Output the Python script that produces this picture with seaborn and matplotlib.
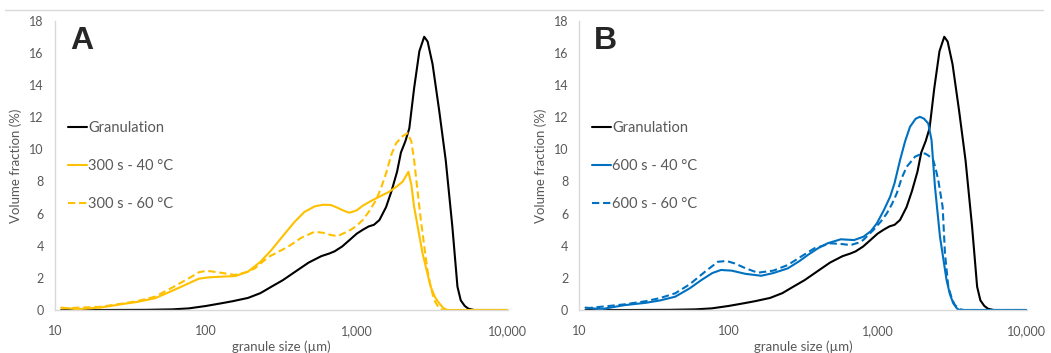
import numpy as np
import pandas as pd
import matplotlib
matplotlib.use("Agg")
import matplotlib.pyplot as plt
from matplotlib.lines import Line2D
from matplotlib.ticker import FixedLocator, NullLocator
import seaborn as sns

# granulation (same curve in both panels)
gran_size = [11, 20, 40, 60, 77, 100, 127, 151, 190, 230, 272, 323, 408, 480, 582,
             660, 713, 800, 895, 1000, 1100, 1200, 1300, 1414, 1564, 1700, 1850,
             1963, 2100, 2230, 2400, 2600, 2800, 2950, 3180, 3520, 3890, 4300,
             4650, 4890, 5200, 5500, 6000, 10000]
gran_vol = [0.0, 0.0, 0.01, 0.04, 0.1, 0.25, 0.42, 0.55, 0.75, 1.05, 1.45, 1.85, 2.5,
            2.95, 3.35, 3.52, 3.65, 3.95, 4.35, 4.75, 5.0, 5.2, 5.3, 5.6, 6.4, 7.4,
            8.6, 9.8, 10.5, 11.3, 13.8, 16.1, 17.0, 16.7, 15.3, 12.4, 9.3, 5.2,
            1.45, 0.6, 0.25, 0.08, 0.0, 0.0]

# panel A: 300 s
a40_size = [11, 14, 20, 28, 35, 46, 60, 77, 90, 104, 130, 156, 190, 230, 272, 330,
            388, 450, 527, 600, 676, 750, 809, 895, 1000, 1100, 1276, 1450, 1644,
            1850, 2014, 2200, 2300, 2400, 2730, 3090, 3300, 3520, 3750, 3980, 10000]
a40_vol = [0.15, 0.05, 0.15, 0.37, 0.5, 0.73, 1.2, 1.66, 1.95, 2.03, 2.08, 2.11, 2.38,
           3.0, 3.73, 4.7, 5.49, 6.1, 6.45, 6.55, 6.53, 6.35, 6.2, 6.05, 6.2, 6.5,
           6.84, 7.1, 7.36, 7.7, 7.98, 8.6, 7.8, 6.42, 3.52, 1.45, 0.8, 0.42, 0.12,
           0.0, 0.0]

a60_size = [11, 20, 28, 35, 46, 60, 77, 90, 101, 120, 155, 185, 211, 260, 351, 430,
            527, 600, 676, 750, 809, 900, 1000, 1096, 1200, 1343, 1450, 1564, 1700,
            1820, 2000, 2175, 2300, 2400, 2530, 2660, 2800, 2940, 3100, 3260, 3520,
            3700, 10000]
a60_vol = [0.1, 0.2, 0.4, 0.55, 0.83, 1.4, 1.97, 2.35, 2.44, 2.35, 2.18, 2.35, 2.59,
           3.3, 3.94, 4.5, 4.87, 4.8, 4.66, 4.6, 4.75, 4.95, 5.25, 5.6, 6.1, 6.84,
           7.6, 8.5, 9.7, 10.36, 10.8, 11.0, 10.5, 9.33, 7.4, 5.6, 4.0, 2.49, 1.4,
           0.62, 0.1, 0.0, 0.0]

# panel B: 600 s
b40_size = [11, 14, 20, 28, 35, 44, 55, 66, 78, 89, 105, 130, 166, 200, 250, 300,
            340, 400, 462, 567, 695, 804, 900, 989, 1100, 1214, 1300, 1415, 1530,
            1650, 1800, 1923, 2050, 2188, 2300, 2425, 2620, 2900, 3050, 3215, 3400,
            3550, 10000]
b40_vol = [0.15, 0.05, 0.3, 0.45, 0.6, 0.83, 1.35, 1.87, 2.3, 2.49, 2.45, 2.25, 2.13,
           2.3, 2.59, 3.05, 3.42, 3.85, 4.15, 4.4, 4.35, 4.56, 4.9, 5.39, 6.2, 7.05,
           7.9, 9.33, 10.5, 11.4, 11.9, 12.02, 11.9, 11.6, 10.57, 7.67, 4.56, 1.87,
           1.0, 0.42, 0.1, 0.0, 0.0]

b60_size = [11, 20, 28, 35, 44, 55, 70, 85, 97, 110, 130, 157, 200, 250, 310, 377,
            486, 580, 661, 750, 800, 938, 1050, 1153, 1250, 1345, 1450, 1568, 1783,
            1950, 2080, 2200, 2360, 2450, 2552, 2730, 2830, 2980, 3150, 3300, 3550,
            3800, 10000]
b60_vol = [0.1, 0.35, 0.55, 0.75, 1.04, 1.6, 2.4, 3.0, 3.05, 2.9, 2.6, 2.32, 2.45,
           2.8, 3.35, 3.84, 4.15, 4.1, 4.04, 4.2, 4.35, 4.98, 5.5, 6.01, 6.6, 7.26,
           8.2, 8.91, 9.54, 9.7, 9.74, 9.6, 9.33, 8.8, 8.08, 6.42, 3.52, 1.45, 0.7,
           0.31, 0.05, 0.0, 0.0]

x_ticks = [10, 100, 1000, 10000]
x_labels = ["10", "100", "1,000", "10,000"]
y_ticks = list(range(0, 19, 2))

YELLOW = "#FFC000"
BLUE = "#0070C0"
GREY = "#595959"

sns.set_style("white")
plt.rcParams["font.family"] = ["Lato", "DejaVu Sans"]

fig = plt.figure(figsize=(10.51, 3.53), dpi=100)
ax_a = fig.add_axes([0.0523, 0.1218, 0.4307, 0.8196])
ax_b = fig.add_axes([0.5512, 0.1218, 0.4257, 0.8196])

panels = [
    (ax_a, "A", YELLOW, (a40_size, a40_vol, "300 s - 40 °C"), (a60_size, a60_vol, "300 s - 60 °C")),
    (ax_b, "B", BLUE, (b40_size, b40_vol, "600 s - 40 °C"), (b60_size, b60_vol, "600 s - 60 °C")),
]

for ax, letter, col, solid, dashed in panels:
    sns.lineplot(x=gran_size, y=gran_vol, ax=ax, color="black", lw=1.5, label="Granulation")
    sns.lineplot(x=solid[0], y=solid[1], ax=ax, color=col, lw=1.5, label=solid[2])
    sns.lineplot(x=dashed[0], y=dashed[1], ax=ax, color=col, lw=1.5,
                 linestyle=(0, (3.5, 1.8)), label=dashed[2])

    ax.set_xscale("log")
    ax.set_xlim(10, 10000)
    ax.set_ylim(0, 18)
    ax.xaxis.set_major_locator(FixedLocator(x_ticks))
    ax.xaxis.set_minor_locator(NullLocator())
    ax.set_xticklabels(x_labels)
    ax.set_yticks(y_ticks)
    ax.tick_params(axis="both", length=0, labelsize=9, labelcolor=GREY)
    ax.tick_params(axis="x", pad=11)
    ax.tick_params(axis="y", pad=8)

    for side in ["top", "right"]:
        ax.spines[side].set_visible(False)
    for side in ["left", "bottom"]:
        ax.spines[side].set_color("#d9d9d9")
        ax.spines[side].set_linewidth(1.0)

    ax.set_xlabel("granule size (µm)", fontsize=9.5, color=GREY, labelpad=2)
    ax.set_ylabel("Volume fraction (%)", fontsize=9.5, color=GREY, labelpad=5)

    ax.text(0.033, 0.93, letter, transform=ax.transAxes, fontsize=23,
            fontweight="bold", family=["Liberation Sans", "DejaVu Sans"],
            va="center", ha="left")

    leg = ax.legend(loc="upper left", bbox_to_anchor=(0.028, 0.652), frameon=False,
                    fontsize=10.5, handlelength=1.3, handletextpad=0.1,
                    labelspacing=1.65, borderpad=0, borderaxespad=0)
    for t in leg.get_texts():
        t.set_color(GREY)

fig.add_artist(Line2D([0.005, 0.992], [0.972, 0.972], transform=fig.transFigure,
                      color="#d9d9d9", lw=1.0))

fig.savefig("out.png", dpi=100)
